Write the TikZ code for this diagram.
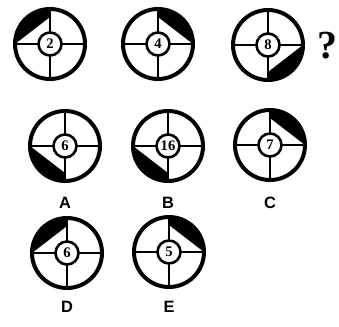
\documentclass[tikz,border=0pt]{standalone}
\usepackage{fontspec}
\setsansfont{Liberation Sans}
\newfontfamily\numfont{Liberation Serif}
\usepackage{tikz}
\usetikzlibrary{positioning}
\tikzset{
  rim/.style={line width=3.4pt,black},
  spoke/.style={line width=2.5pt,black},
  hub/.style={line width=2.2pt,black,fill=white},
  num/.style={font=\numfont\bfseries\fontsize{12.5}{12.5}\selectfont,inner sep=0pt},
  lab/.style={font=\sffamily\bfseries\fontsize{14}{14}\selectfont,inner sep=0pt}
}
\begin{document}
\begin{tikzpicture}[x=0.03cm,y=0.03cm]
\useasboundingbox (0,0) rectangle (339,326);
% dials: x/y/horizontal end/vertical end/number/name
\foreach \cx/\cy/\h/\v/\num/\nm in {50/282/180/90/2/p1,158/282/0/90/4/p2,268/281/0/-90/8/p3,
  65/180/180/270/6/a,168/180/180/270/16/b,270/181/0/90/7/c,
  67/73/180/90/6/d,169/74/0/90/5/e}{
 \begin{scope}[shift={(\cx,\cy)}]
  \fill[black] (\h:35) arc[start angle=\h,end angle=\v,radius=35] -- (\v:27) -- cycle;
  \draw[rim] (0,0) circle[radius=35];
  \foreach \ang in {0,90,180,270}
   \draw[spoke] (\ang:11) -- (\ang:35);
  \draw[hub] (0,0) circle[radius=11.5];
  \node[num] (n\nm) at (0,0) {\num};
 \end{scope}}
% answer letters
\foreach \lx/\ly/\ll in {65/123/A,168/123/B,270/123/C,67/19/D,169/19/E}
 \node[lab] (l\ll) at (\lx,\ly) {\ll};
\node[font=\numfont\bfseries\fontsize{34}{34}\selectfont,inner sep=0pt] (qm) at (327,280) {?};
\end{tikzpicture}
\end{document}
